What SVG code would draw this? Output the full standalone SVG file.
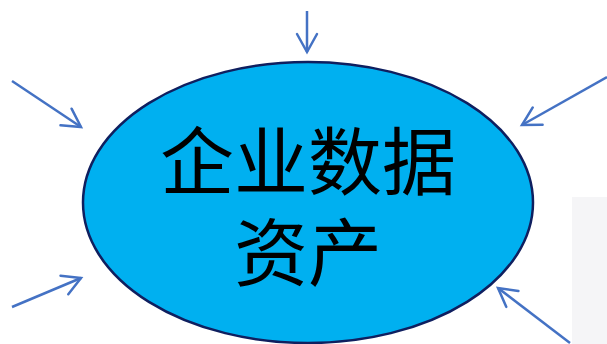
<svg xmlns="http://www.w3.org/2000/svg" width="607" height="344" viewBox="0 0 607 344">
  <style>
    .arrow { stroke: #4472C4; stroke-width: 2.5; fill: none; marker-end: url(#head); }
    .label { font-family: "Noto Sans CJK SC", "Noto Sans", sans-serif; font-size: 74px; fill: #000000; text-anchor: middle; }
  </style>
  <defs>
    <marker id="head" markerUnits="userSpaceOnUse" markerWidth="24" markerHeight="26" refX="20" refY="12" orient="auto" viewBox="0 0 24 26">
      <path d="M 2 2 L 20 12 L 2 22" fill="none" stroke="#4472C4" stroke-width="2.5" stroke-linecap="round" stroke-linejoin="miter"/>
    </marker>
  </defs>
  <rect x="0" y="0" width="607" height="344" fill="#ffffff"/>
  <rect x="572" y="197" width="35" height="147" fill="#f5f5f7"/>
  <g id="connectors">
    <line class="arrow" x1="307" y1="11" x2="307" y2="52"/>
    <line class="arrow" x1="12" y1="81" x2="81" y2="127"/>
    <line class="arrow" x1="607" y1="77" x2="522" y2="125"/>
    <line class="arrow" x1="12" y1="307" x2="81" y2="278"/>
    <line class="arrow" x1="570" y1="343" x2="498" y2="288"/>
  </g>
  <g id="node-asset">
    <ellipse cx="308" cy="202.5" rx="225" ry="140.5" fill="#00B0F0" stroke="#0F1F5F" stroke-width="2.5"/>
    <text class="label" x="308" y="189">企业数据</text>
    <text class="label" x="308" y="280">资产</text>
  </g>
</svg>
